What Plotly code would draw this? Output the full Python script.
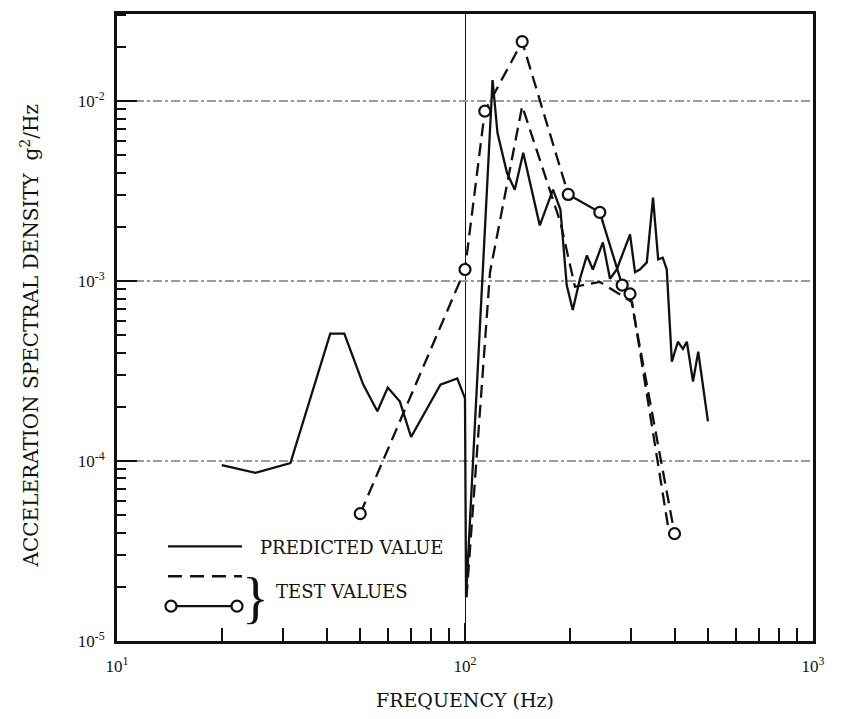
import math
import plotly.graph_objects as go

# ---------------- data ----------------
pred_freq = [20, 25, 31.5, 41, 45, 51, 56, 60, 65, 70, 85, 95, 100, 100.7, 120, 124, 132, 139, 147,
             164, 179, 188, 196, 204, 214, 224, 233, 249, 261, 273, 298, 308, 318, 333, 347,
             359, 370, 380, 393, 409, 423, 434, 452, 468, 499]
pred_val = [9.5e-5, 8.6e-5, 9.75e-5, 5.1e-4, 5.1e-4, 2.66e-4, 1.89e-4, 2.56e-4, 2.14e-4, 1.36e-4,
            2.66e-4, 2.88e-4, 2.23e-4, 1.75e-5, 1.31e-2, 6.65e-3, 4.0e-3, 3.22e-3, 5.16e-3,
            2.04e-3, 3.22e-3, 2.5e-3, 9.5e-4, 6.9e-4, 1.03e-3, 1.39e-3, 1.16e-3, 1.64e-3, 1.03e-3,
            1.16e-3, 1.82e-3, 1.12e-3, 1.16e-3, 1.27e-3, 2.91e-3,
            1.32e-3, 1.35e-3, 1.16e-3, 3.57e-4, 4.6e-4, 4.2e-4, 4.6e-4, 2.77e-4, 4.05e-4, 1.66e-4]

test_a_freq = [101, 118, 146, 188, 207, 244, 302, 385]
test_a_val = [1.75e-5, 1.12e-3, 9.4e-3, 2.12e-3, 9.3e-4, 9.9e-4, 7.66e-4, 4.1e-5]

test_b_freq = [50, 100, 114, 146, 198, 244, 283, 298, 400]
test_b_val = [5.1e-5, 1.16e-3, 8.8e-3, 2.14e-2, 3.03e-3, 2.41e-3, 9.5e-4, 8.5e-4, 3.95e-5]

x_tick_vals = [10, 100, 1000]
x_tick_text = ["10<sup>1</sup>", "10<sup>2</sup>", "10<sup>3</sup>"]
y_tick_vals = [1e-5, 1e-4, 1e-3, 1e-2]
y_tick_text = ["10<sup>-5</sup>", "10<sup>-4</sup>", "10<sup>-3</sup>", "10<sup>-2</sup>"]

x_title = "FREQUENCY (Hz)"
y_title = "ACCELERATION SPECTRAL DENSITY  g<sup>2</sup>/Hz"
legend_pred = "PREDICTED VALUE"
legend_test = "TEST VALUES"

# ---------------- figure ----------------
FONT = "Liberation Serif, Times New Roman, serif"
WIDE = "DejaVu Serif, Liberation Serif, serif"
INK = "#111111"
DASH = "13px,7px"

fig = go.Figure()

fig.add_trace(go.Scatter(x=pred_freq, y=pred_val, mode="lines",
                         line=dict(color=INK, width=2.3), hoverinfo="skip"))
fig.add_trace(go.Scatter(x=test_a_freq, y=test_a_val, mode="lines",
                         line=dict(color=INK, width=2.3, dash=DASH), hoverinfo="skip"))

# circle series: line style differs by segment
segments = [(0, 4, DASH), (4, 7, "solid"), (7, 8, DASH)]
for a, b, d in segments:
    fig.add_trace(go.Scatter(x=test_b_freq[a:b + 1], y=test_b_val[a:b + 1], mode="lines",
                             line=dict(color=INK, width=2.3, dash=d), hoverinfo="skip"))
fig.add_trace(go.Scatter(x=test_b_freq, y=test_b_val, mode="markers",
                         marker=dict(symbol="circle", size=11, color="white",
                                     line=dict(color=INK, width=2.2)),
                         hoverinfo="skip"))

# plot area in pixels
L, R, T, B = 117, 813, 11, 641
W, H = R - L, B - T


def px(xp):
    return (xp - L) / W


def py(yp):
    return (B - yp) / H


shapes = []
annotations = []
# legend samples
shapes.append(dict(type="line", xref="paper", yref="paper", x0=px(168), x1=px(242),
                   y0=py(546), y1=py(546), line=dict(color=INK, width=2.3)))
shapes.append(dict(type="line", xref="paper", yref="paper", x0=px(168), x1=px(242),
                   y0=py(576), y1=py(576), line=dict(color=INK, width=2.6, dash="14px,8px")))
shapes.append(dict(type="line", xref="paper", yref="paper", x0=px(171), x1=px(237),
                   y0=py(606), y1=py(606), line=dict(color=INK, width=2.3)))
for cx in (171, 237):
    shapes.append(dict(type="circle", xref="paper", yref="paper", x0=px(cx - 5.5), x1=px(cx + 5.5),
                       y0=py(606 + 5.5), y1=py(606 - 5.5), fillcolor="white",
                       line=dict(color=INK, width=2.2)))
annotations.append(dict(text=legend_pred, xref="paper", yref="paper", x=px(258), y=py(547),
                        xanchor="left", yanchor="middle", showarrow=False,
                        font=dict(family=WIDE, size=18, color=INK)))
annotations.append(dict(text="}", xref="paper", yref="paper", x=px(271), y=py(598),
                        xanchor="right", yanchor="middle", showarrow=False,
                        font=dict(family=FONT, size=56, color=INK)))
annotations.append(dict(text=legend_test, xref="paper", yref="paper", x=px(274), y=py(591),
                        xanchor="left", yanchor="middle", showarrow=False,
                        font=dict(family=WIDE, size=18, color=INK)))
# axis titles
annotations.append(dict(text=x_title, xref="paper", yref="paper", x=0.5, y=py(700),
                        xanchor="center", yanchor="middle", showarrow=False,
                        font=dict(family=WIDE, size=19, color=INK)))
annotations.append(dict(text=y_title, xref="paper", yref="paper", x=px(30), y=py(335),
                        xanchor="center", yanchor="middle", showarrow=False, textangle=-90,
                        font=dict(family=WIDE, size=20, color=INK)))

fig.update_layout(
    width=842, height=719,
    margin=dict(l=L, r=842 - R, t=T, b=719 - B),
    paper_bgcolor="white", plot_bgcolor="white",
    showlegend=False,
    shapes=shapes, annotations=annotations,
    font=dict(family=FONT, size=14, color=INK),
)
fig.update_xaxes(
    type="log", range=[1, 3],
    tickvals=x_tick_vals, ticktext=x_tick_text,
    ticks="inside", ticklen=18, tickwidth=2, tickcolor=INK,
    showline=True, linecolor=INK, linewidth=2.8, mirror=True,
    showgrid=True, gridcolor=INK, gridwidth=1.3,
    minor=dict(ticks="inside", ticklen=13, tickwidth=2, tickcolor=INK, dtick="D1", showgrid=False),
    tickfont=dict(family=FONT, size=17, color=INK),
    ticklabelstandoff=8,
    zeroline=False,
)
fig.update_yaxes(
    type="log", range=[-5, math.log10(0.0305)],
    tickvals=y_tick_vals, ticktext=y_tick_text,
    ticks="inside", ticklen=20, tickwidth=2, tickcolor=INK,
    showline=True, linecolor=INK, linewidth=2.8, mirror=True,
    showgrid=True, gridcolor="#9a9a9a", gridwidth=1.6, griddash="dashdot",
    minor=dict(ticks="inside", ticklen=9, tickwidth=2, tickcolor=INK, dtick="D1", showgrid=False),
    tickfont=dict(family=FONT, size=17, color=INK),
    ticklabelstandoff=6,
    zeroline=False,
)

fig.write_html("out.html")
